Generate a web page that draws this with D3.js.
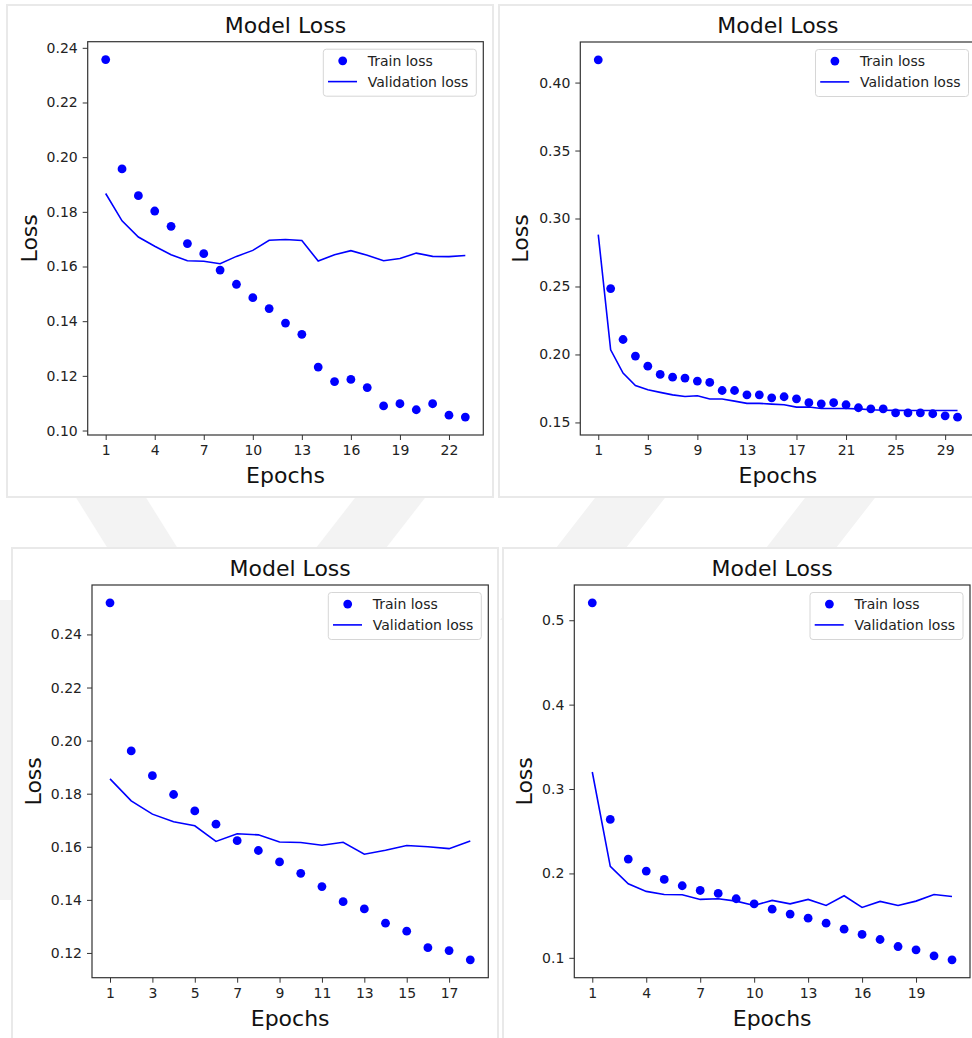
<!DOCTYPE html>
<html>
<head>
<meta charset="utf-8">
<script src="https://cdn.jsdelivr.net/npm/d3@7"></script>
<style>
  html, body { margin: 0; padding: 0; background: #fff; }
  svg { display: block; font-family: "DejaVu Sans", sans-serif; }
</style>
</head>
<body>
<svg id="fig" width="972" height="1038"></svg>
<script>
const train1 = [0.2357, 0.1957, 0.1859, 0.1803, 0.1747, 0.1684, 0.1647, 0.1587, 0.1535, 0.1486, 0.1446, 0.1393,
                0.1352, 0.1232, 0.1179, 0.1187, 0.1157, 0.1090, 0.1098, 0.1076, 0.1098, 0.1056, 0.1049];
const val1   = [0.1867, 0.1767, 0.1708, 0.1674, 0.1643, 0.1621, 0.1619, 0.1610, 0.1637, 0.1659, 0.1696, 0.1699,
                0.1695, 0.1620, 0.1643, 0.1658, 0.1641, 0.1621, 0.1629, 0.1649, 0.1637, 0.1636, 0.1640];
const xTicks1 = [1, 4, 7, 10, 13, 16, 19, 22];
const yTicks1 = [0.10, 0.12, 0.14, 0.16, 0.18, 0.20, 0.22, 0.24];

const train2 = [0.4167, 0.2485, 0.2110, 0.1988, 0.1914, 0.1853, 0.1833, 0.1826, 0.1804, 0.1794, 0.1735, 0.1735,
                0.1703, 0.1703, 0.1681, 0.1689, 0.1674, 0.1645, 0.1637, 0.1645, 0.1630, 0.1608, 0.1600, 0.1600,
                0.1571, 0.1571, 0.1571, 0.1564, 0.1549, 0.1539];
const val2   = [0.2882, 0.2034, 0.1863, 0.1772, 0.1740, 0.1721, 0.1703, 0.1691, 0.1696, 0.1672, 0.1672, 0.1657,
                0.1640, 0.1640, 0.1635, 0.1630, 0.1613, 0.1613, 0.1603, 0.1603, 0.1603, 0.1600, 0.1593, 0.1590,
                0.1589, 0.1588, 0.1588, 0.1588, 0.1588, 0.1588];
const xTicks2 = [1, 5, 9, 13, 17, 21, 25, 29];
const yTicks2 = [0.15, 0.20, 0.25, 0.30, 0.35, 0.40];

const train3 = [0.2519, 0.1961, 0.1868, 0.1797, 0.1735, 0.1685, 0.1623, 0.1586, 0.1543, 0.1500, 0.1450, 0.1393,
                0.1366, 0.1312, 0.1282, 0.1220, 0.1209, 0.1174];
const val3   = [0.1856, 0.1773, 0.1723, 0.1694, 0.1679, 0.1620, 0.1649, 0.1645, 0.1618, 0.1616, 0.1606, 0.1617,
                0.1572, 0.1587, 0.1605, 0.1600, 0.1593, 0.1622];
const xTicks3 = [1, 3, 5, 7, 9, 11, 13, 15, 17];
const yTicks3 = [0.12, 0.14, 0.16, 0.18, 0.20, 0.22, 0.24];

const train4 = [0.5206, 0.2640, 0.2170, 0.2028, 0.1929, 0.1854, 0.1798, 0.1763, 0.1700, 0.1640, 0.1577, 0.1518,
                0.1470, 0.1411, 0.1340, 0.1277, 0.1217, 0.1134, 0.1095, 0.1024, 0.0976];
const val4   = [0.3202, 0.2083, 0.1877, 0.1787, 0.1751, 0.1747, 0.1692, 0.1700, 0.1672, 0.1621, 0.1680, 0.1640,
                0.1692, 0.1621, 0.1735, 0.1597, 0.1668, 0.1621, 0.1672, 0.1751, 0.1727];
const xTicks4 = [1, 4, 7, 10, 13, 16, 19];
const yTicks4 = [0.1, 0.2, 0.3, 0.4, 0.5];

const BLUE = "#0000ff";
const svg = d3.select("#fig");

// faint watermark stripes behind the screenshots
const wm = svg.append("g").attr("fill", "#f3f3f3");
[
  [[40, 440], [110, 440], [210, 600], [140, 600]],
  [[400, 440], [470, 440], [330, 620], [260, 620]],
  [[640, 440], [710, 440], [570, 620], [500, 620]],
  [[850, 440], [920, 440], [780, 620], [710, 620]],
  [[0, 600], [20, 600], [20, 900], [0, 900]]
].forEach(p => wm.append("polygon").attr("points", p.map(q => q.join(",")).join(" ")));

// the four screenshot cards
const cards = [
  {x: 7, y: 5, w: 486, h: 492},
  {x: 499, y: 5, w: 480, h: 492},
  {x: 12, y: 548, w: 486, h: 495},
  {x: 503, y: 548, w: 476, h: 495}
];
cards.forEach(c => {
  svg.append("rect")
    .attr("x", c.x).attr("y", c.y).attr("width", c.w).attr("height", c.h)
    .attr("fill", "#fff").attr("stroke", "#e9e9e9").attr("stroke-width", 2);
});

function drawPanel(p) {
  const {left, right, top, bottom} = p.box;
  const n = p.train.length;
  const all = p.train.concat(p.val);
  const yMin = d3.min(all), yMax = d3.max(all);
  const yPad = (yMax - yMin) * 0.05;
  const xPad = (n - 1) * 0.05;

  const x = d3.scaleLinear().domain([1 - xPad, n + xPad]).range([left, right]);
  const y = d3.scaleLinear().domain([yMin - yPad, yMax + yPad]).range([bottom, top]);

  const g = svg.append("g");

  // clip so the right-most panel can run off the page like the screenshot
  const clipId = "clip" + p.id;
  g.append("clipPath").attr("id", clipId)
    .append("rect").attr("x", left).attr("y", top).attr("width", right - left).attr("height", bottom - top);

  // axes
  const xAxis = g.append("g")
    .attr("transform", `translate(0,${bottom})`)
    .call(d3.axisBottom(x).tickValues(p.xTicks).tickSize(5).tickPadding(5).tickFormat(d3.format("d")));
  const yAxis = g.append("g")
    .attr("transform", `translate(${left},0)`)
    .call(d3.axisLeft(y).tickValues(p.yTicks).tickSize(5).tickPadding(5).tickFormat(d3.format(p.yFmt)));
  [xAxis, yAxis].forEach(a => {
    a.select(".domain").remove();
    a.selectAll(".tick line").attr("stroke", "#333").attr("stroke-width", 1);
    a.selectAll(".tick text").attr("fill", "#222").style("font-size", "14px")
      .style("font-family", "DejaVu Sans, sans-serif");
  });

  // frame
  g.append("rect")
    .attr("x", left).attr("y", top).attr("width", right - left).attr("height", bottom - top)
    .attr("fill", "none").attr("stroke", "#333").attr("stroke-width", 1.2);

  const plot = g.append("g").attr("clip-path", `url(#${clipId})`);

  // validation line
  plot.append("path")
    .datum(p.val)
    .attr("fill", "none")
    .attr("stroke", BLUE)
    .attr("stroke-width", 1.6)
    .attr("d", d3.line().x((d, i) => x(i + 1)).y(d => y(d)));

  // train points
  plot.selectAll("circle.train")
    .data(p.train)
    .enter()
    .append("circle")
    .attr("class", "train")
    .attr("cx", (d, i) => x(i + 1))
    .attr("cy", d => y(d))
    .attr("r", 4.4)
    .attr("fill", BLUE);

  // title and labels
  g.append("text")
    .attr("x", (left + right) / 2).attr("y", top - 9)
    .attr("text-anchor", "middle").attr("fill", "#111")
    .style("font-size", "22px")
    .text("Model Loss");

  g.append("text")
    .attr("x", (left + right) / 2).attr("y", bottom + 48)
    .attr("text-anchor", "middle").attr("fill", "#111")
    .style("font-size", "22px")
    .text("Epochs");

  g.append("text")
    .attr("transform", `translate(${p.yLabelX},${(top + bottom) / 2}) rotate(-90)`)
    .attr("text-anchor", "middle").attr("dy", "0.35em").attr("fill", "#111")
    .style("font-size", "22px")
    .text("Loss");

  // legend
  const lx = right - 7 - 153, ly = top + 7.5;
  const lg = g.append("g").attr("transform", `translate(${lx},${ly})`);
  lg.append("rect")
    .attr("width", 153).attr("height", 47).attr("rx", 3)
    .attr("fill", "#fff").attr("fill-opacity", 0.85)
    .attr("stroke", "#d6d6d6").attr("stroke-width", 1);
  lg.append("circle").attr("cx", 19.4).attr("cy", 11.6).attr("r", 4.4).attr("fill", BLUE);
  lg.append("line").attr("x1", 4.7).attr("x2", 33.7).attr("y1", 32.4).attr("y2", 32.4)
    .attr("stroke", BLUE).attr("stroke-width", 1.6);
  lg.append("text").attr("x", 44.4).attr("y", 16.6).attr("fill", "#222")
    .style("font-size", "14px").text("Train loss");
  lg.append("text").attr("x", 44.4).attr("y", 37.6).attr("fill", "#222")
    .style("font-size", "14px").text("Validation loss");
}

drawPanel({id: 1, train: train1, val: val1, xTicks: xTicks1, yTicks: yTicks1, yFmt: ".2f",
  box: {left: 87.7, right: 483.3, top: 41.7, bottom: 435}, yLabelX: 29});
drawPanel({id: 2, train: train2, val: val2, xTicks: xTicks2, yTicks: yTicks2, yFmt: ".2f",
  box: {left: 580.3, right: 975.5, top: 42, bottom: 435}, yLabelX: 520});
drawPanel({id: 3, train: train3, val: val3, xTicks: xTicks3, yTicks: yTicks3, yFmt: ".2f",
  box: {left: 92, right: 488.3, top: 585, bottom: 977.7}, yLabelX: 33});
drawPanel({id: 4, train: train4, val: val4, xTicks: xTicks4, yTicks: yTicks4, yFmt: ".1f",
  box: {left: 574.3, right: 970, top: 585, bottom: 977.7}, yLabelX: 524});
</script>
</body>
</html>
